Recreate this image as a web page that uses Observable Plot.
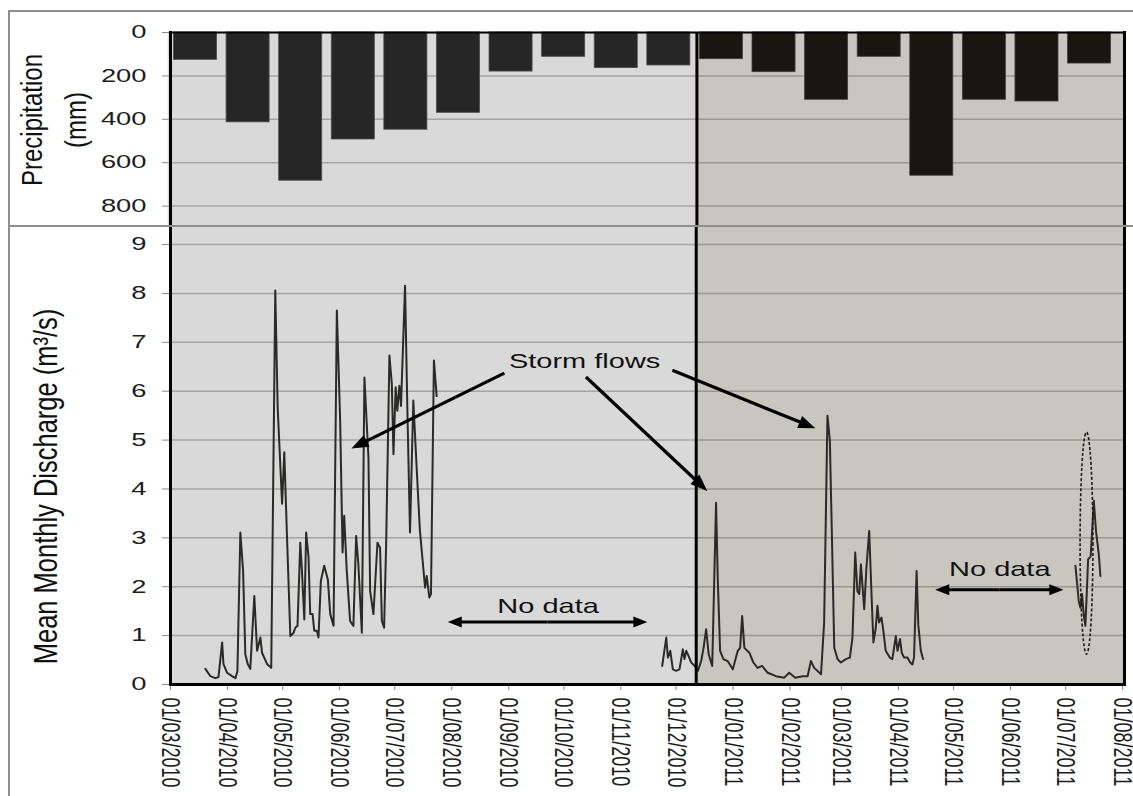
<!DOCTYPE html>
<html>
<head>
<meta charset="utf-8">
<script src="https://cdn.jsdelivr.net/npm/d3@7"></script>
<script src="https://cdn.jsdelivr.net/npm/@observablehq/plot@0.6"></script>
<style>
  html, body { margin: 0; padding: 0; background: #fff; }
  #chart { position: relative; width: 1133px; height: 796px; overflow: hidden; }
  #chart svg { position: absolute; left: 0; }
  .hline { position: absolute; left: 8px; right: 0; height: 2px; background: #8e8e8e; }
  .vline { position: absolute; left: 8px; top: 10px; bottom: 0; width: 2px; background: #8e8e8e; }
</style>
</head>
<body>
<div id="chart">
  <div class="hline" style="top:10px"></div>
  <div class="vline"></div>
</div>
<script>
// ---- Monthly precipitation (mm), March 2010 – August 2011 ----
const precipMonths = ["2010-03","2010-04","2010-05","2010-06","2010-07","2010-08","2010-09","2010-10","2010-11","2010-12",
                      "2011-01","2011-02","2011-03","2011-04","2011-05","2011-06","2011-07","2011-08"];
const precipMm = [126, 414, 683, 493, 448, 370, 180, 112, 164, 152, 123, 183, 310, 112, 660, 310, 318, 143];
const precipTicks = [0, 200, 400, 600, 800];

// ---- Discharge (m3/s); days are counted from 1 March 2010 ----
const dayMar2010Jul2010 = [19.0,21.7,24.4,26.1,28.1,28.8,30.8,33.5,35.3,36.4,38.0,39.5,40.7,42.0,43.4,45.6,47.1,48.9,49.8,52.5,
  54.8,57.0,58.3,60.7,61.9,63.4,65.2,67.0,67.9,69.1,70.6,71.5,72.8,73.8,75.1,76.0,77.3,78.2,79.7,80.5,
  81.8,83.6,85.6,86.9,88.7,90.5,92.3,93.6,94.5,95.9,97.7,99.5,101.0,102.2,104.1,105.5,107.7,108.6,110.4,112.6,
  114.0,115.0,116.2,117.3,119.1,120.4,121.3,122.5,123.4,124.5,125.4,127.6,128.8,130.3,132.1,134.0,135.7,138.5,139.4,140.8,
  141.7,143.3,144.8];
const flowMar2010Jul2010 = [0.32,0.17,0.13,0.15,0.86,0.42,0.24,0.17,0.13,0.27,3.11,2.32,0.62,0.42,0.32,1.81,0.69,0.96,0.65,0.42,
  0.34,8.06,5.67,3.70,4.75,3.00,0.99,1.06,1.16,1.20,2.90,2.32,1.33,3.11,2.60,1.44,1.44,1.10,1.10,0.96,
  2.12,2.43,2.15,1.44,1.20,7.65,5.40,2.70,3.45,2.32,1.30,1.20,3.04,2.46,1.06,6.28,4.64,1.91,1.44,2.90,
  2.80,1.30,1.16,2.84,6.73,6.15,4.71,6.08,5.60,6.11,5.70,8.16,5.74,3.11,5.81,4.37,3.14,1.98,2.22,1.78,
  1.85,6.63,5.90];

const dayNov2010Apr2011 = [267.5,269.7,270.6,271.9,273.3,275.1,276.9,278.7,279.6,280.6,281.4,283.3,285.1,286.9,288.7,290.0,291.4,292.8,294.7,296.8,
  297.7,299.0,300.8,303.1,305.9,308.6,309.9,311.0,312.2,314.9,317.1,319.4,321.8,324.9,329.4,333.9,336.6,339.9,343.9,346.6,
  348.4,350.2,353.9,355.6,357.4,358.7,359.8,361.1,362.9,364.7,367.4,369.6,371.0,372.5,373.7,374.7,375.6,377.4,378.6,380.1,
  381.3,382.4,383.7,384.6,385.5,386.8,387.7,389.1,391.3,392.7,394.6,395.5,396.9,397.8,399.1,400.9,402.4,403.6,404.5,405.9,
  406.8,408.2,409.4];
const flowNov2010Apr2011 = [0.38,0.96,0.55,0.69,0.31,0.28,0.31,0.72,0.52,0.69,0.62,0.45,0.38,0.28,0.48,0.75,1.13,0.62,0.38,3.72,
  2.19,0.69,0.52,0.48,0.31,0.69,0.75,1.40,0.75,0.65,0.45,0.34,0.38,0.24,0.17,0.14,0.24,0.14,0.17,0.17,
  0.48,0.34,0.21,1.27,5.50,4.99,3.08,0.75,0.52,0.45,0.52,0.55,0.96,2.70,1.91,1.85,2.46,1.54,2.39,3.14,
  1.91,0.86,1.16,1.61,1.27,1.37,1.13,0.69,0.55,0.52,0.99,0.69,0.93,0.65,0.55,0.55,0.45,0.41,0.55,2.32,
  1.23,0.69,0.52];

const dayJul2011 = [492.3,494.1,495.0,495.9,496.8,497.7,498.6,499.2,500.6,502.3,503.5,505.0,505.9];
const flowJul2011 = [2.43,1.71,1.57,1.85,1.44,1.20,1.98,2.56,2.62,3.76,3.14,2.67,2.22];

const flowTicks = [0, 1, 2, 3, 4, 5, 6, 7, 8, 9];
const dateTicks = ["2010-03-01","2010-04-01","2010-05-01","2010-06-01","2010-07-01","2010-08-01","2010-09-01","2010-10-01",
  "2010-11-01","2010-12-01","2011-01-01","2011-02-01","2011-03-01","2011-04-01","2011-05-01","2011-06-01","2011-07-01","2011-08-01"];

// ---- Annotations (days from 1 March 2010, discharge in m3/s) ----
const splitDate = "2010-12-12";
const stormLabel = {day: 225.3, q: 6.48, text: "Storm flows"};
const stormArrows = [
  {fromDay: 181.9, fromQ: 6.36, toDay: 98.7, toQ: 4.82},
  {fromDay: 226.3, fromQ: 6.28, toDay: 292.3, toQ: 3.95},
  {fromDay: 273.3, fromQ: 6.42, toDay: 351.1, toQ: 5.23}
];
const gaps = [
  {fromDay: 151.1, toDay: 259.7, q: 1.27, labelQ: 1.47, text: "No data"},
  {fromDay: 416.3, toDay: 486.0, q: 1.93, labelQ: 2.22, text: "No data"}
];
const ring = {day: 498.6, q: 2.88, halfDays: 3.5, halfQ: 2.27};

// ---- helpers ----
const NS = "http://www.w3.org/2000/svg";
const START = new Date("2010-03-01");
const onDay = (d) => new Date(START.getTime() + d * 864e5);
const FONT = '"Liberation Sans", Arial, Helvetica, sans-serif';
const W = 1133, LEFT = 170, RIGHT = 1124;
const shadeEarly = "#d9d9d9", shadeLate = "#c8c7bf";
const barEarly = "#262626", barLate = "#17160f";
const grid = {stroke: "#000", strokeOpacity: 0.24, strokeWidth: 1.5};
const SPLIT = new Date(splitDate);

// band layout of the monthly bars
const PAD_INNER = 0.182, PAD_OUTER = 0.161, ALIGN = 0.207;
const step = (RIGHT - LEFT) / (precipMonths.length - PAD_INNER + 2 * PAD_OUTER);
const bandWidth = step * (1 - PAD_INNER);

const months = precipMonths.map((m, i) => ({month: m, start: new Date(m + "-01"), mm: precipMm[i]}));
const monthsEarly = months.filter((d) => d.start < SPLIT);
const monthsLate = months.filter((d) => d.start >= SPLIT);

const flowRows = [
  ...dayMar2010Jul2010.map((d, i) => ({date: onDay(d), q: flowMar2010Jul2010[i], seg: "a"})),
  ...dayNov2010Apr2011.map((d, i) => ({date: onDay(d), q: flowNov2010Apr2011[i], seg: "b"})),
  ...dayJul2011.map((d, i) => ({date: onDay(d), q: flowJul2011[i], seg: "c"}))
];

// the typeface is set wide horizontally; stretch text along the x direction
function widenText(svg) {
  const byLabel = {"y-axis tick label": 1.52, "x-axis tick label": 1.45};
  const byDesc = {"precip title": 1.25, "flow title": 1.3, "annotation": 1.38};
  svg.querySelectorAll("g").forEach((g) => {
    const k = byLabel[g.getAttribute("aria-label")] ?? byDesc[g.getAttribute("aria-description")];
    if (!k) return;
    g.querySelectorAll(":scope > text").forEach((t) => {
      const tr = t.getAttribute("transform") || "";
      t.setAttribute("transform", tr + (/rotate/.test(tr) ? ` scale(1,${k})` : ` scale(${k},1)`));
    });
  });
}

// straight arrows with solid triangular heads, positioned through the plot scales
function arrowsMark(rows, {head = 16, halfWidth = 6, width = 3} = {}) {
  return (index, {x, y}) => {
    const g = document.createElementNS(NS, "g");
    g.setAttribute("aria-label", "arrow");
    for (const r of rows) {
      const x1 = x(onDay(r.fromDay)), y1 = y(r.fromQ), x2 = x(onDay(r.toDay)), y2 = y(r.toQ);
      const a = Math.atan2(y2 - y1, x2 - x1), c = Math.cos(a), s = Math.sin(a);
      const bx = x2 - head * c, by = y2 - head * s;
      const line = document.createElementNS(NS, "line");
      line.setAttribute("x1", x1); line.setAttribute("y1", y1);
      line.setAttribute("x2", bx + c); line.setAttribute("y2", by + s);
      line.setAttribute("stroke", "#000"); line.setAttribute("stroke-width", width);
      g.appendChild(line);
      const tri = document.createElementNS(NS, "path");
      tri.setAttribute("d", `M${x2},${y2}L${bx - halfWidth * s},${by + halfWidth * c}L${bx + halfWidth * s},${by - halfWidth * c}Z`);
      tri.setAttribute("fill", "#000");
      g.appendChild(tri);
    }
    return g;
  };
}

// ---- precipitation panel ----
const precipMax = 894;
const topPlot = Plot.plot({
  width: W, height: 226,
  marginLeft: LEFT, marginRight: W - RIGHT, marginTop: 32, marginBottom: 0,
  style: {fontFamily: FONT, background: "transparent", overflow: "visible", color: "#000"},
  x: {type: "band", domain: precipMonths, paddingInner: PAD_INNER, paddingOuter: PAD_OUTER, align: ALIGN, round: false, axis: null},
  y: {domain: [0, precipMax], reverse: true, axis: null},
  marks: [
    Plot.frame({fill: shadeLate, stroke: null}),
    Plot.barY(monthsEarly, {x: "month", y1: 0, y2: precipMax, fill: shadeEarly,
      insetLeft: -step * PAD_INNER / 2 - 1, insetRight: -step * PAD_INNER / 2 - 1}),
    Plot.gridY(precipTicks.slice(1), grid),
    Plot.barY(monthsEarly, {x: "month", y: "mm", fill: barEarly, stroke: "#4a4a4a", strokeWidth: 0.8}),
    Plot.barY(monthsLate, {x: "month", y: "mm", fill: barLate, stroke: "#403f38", strokeWidth: 0.8}),
    Plot.axisY(precipTicks, {tickSize: 8, tickPadding: 16, fontSize: 18, stroke: "#8a8a8a", fill: "#1c1c1c", label: null}),
    Plot.ruleX(["2011-01"], {dx: -(bandWidth / 2 + 3), strokeWidth: 3, stroke: "#000"}),
    Plot.frame({anchor: "top", strokeWidth: 2, stroke: "#000"}),
    Plot.frame({anchor: "left", strokeWidth: 3, stroke: "#000"}),
    Plot.frame({anchor: "right", strokeWidth: 3, stroke: "#000"}),
    Plot.text(["Precipitation\n(mm)"], {frameAnchor: "left", textAnchor: "middle", rotate: -90, dx: -121, dy: -9.5,
      fontSize: 24, lineHeight: 1.47, fill: "#111", ariaDescription: "precip title"})
  ]
});
topPlot.style.top = "0px";

// ---- discharge panel ----
const flowMax = 9.37;
const ellipseMark = (index, {x, y}) => {
  const cx = x(onDay(ring.day)), cy = y(ring.q);
  const rx = x(onDay(ring.day + ring.halfDays)) - cx;
  const ry = cy - y(ring.q + ring.halfQ);
  const el = document.createElementNS(NS, "ellipse");
  el.setAttribute("cx", cx); el.setAttribute("cy", cy);
  el.setAttribute("rx", rx); el.setAttribute("ry", ry);
  el.setAttribute("fill", "none"); el.setAttribute("stroke", "#1a1a1a");
  el.setAttribute("stroke-width", 1.6); el.setAttribute("stroke-dasharray", "3,2");
  return el;
};

// each "No data" span is drawn as two arrows running out from its middle
const gapArrows = gaps.flatMap((d) => {
  const mid = (d.fromDay + d.toDay) / 2;
  return [
    {fromDay: mid, fromQ: d.q, toDay: d.fromDay, toQ: d.q},
    {fromDay: mid, fromQ: d.q, toDay: d.toDay, toQ: d.q}
  ];
});

const bottomPlot = Plot.plot({
  width: W, height: 570,
  marginLeft: LEFT, marginRight: W - RIGHT, marginTop: 0, marginBottom: 112,
  style: {fontFamily: FONT, background: "transparent", overflow: "visible", color: "#000"},
  x: {type: "utc", domain: [START, new Date("2011-08-02")], axis: null},
  y: {domain: [0, flowMax], axis: null},
  marks: [
    Plot.frame({fill: shadeLate, stroke: null}),
    Plot.rect([{x1: START, x2: SPLIT}], {x1: "x1", x2: "x2", fill: shadeEarly}),
    Plot.gridY(flowTicks.slice(1), grid),
    Plot.line(flowRows, {x: "date", y: "q", z: "seg", stroke: "#2a2a28", strokeWidth: 2, strokeLinejoin: "round"}),
    ellipseMark,
    arrowsMark(stormArrows, {head: 17, halfWidth: 6.5, width: 3.2}),
    arrowsMark(gapArrows, {head: 14, halfWidth: 5.5, width: 3}),
    Plot.text([stormLabel], {x: (d) => onDay(d.day), y: "q", text: "text", fontSize: 21, lineAnchor: "bottom",
      fill: "#111", ariaDescription: "annotation"}),
    Plot.text(gaps, {x: (d) => onDay((d.fromDay + d.toDay) / 2), y: "labelQ", text: "text", fontSize: 21, lineAnchor: "bottom",
      fill: "#111", ariaDescription: "annotation"}),
    Plot.axisX(dateTicks.map((d) => new Date(d)), {tickFormat: d3.utcFormat("%d/%m/%Y"), tickRotate: 90,
      tickSize: 6, tickPadding: 7, fontSize: 18, stroke: "#8a8a8a", fill: "#1c1c1c", label: null}),
    Plot.axisY(flowTicks, {tickSize: 8, tickPadding: 16, fontSize: 18, stroke: "#8a8a8a", fill: "#1c1c1c", label: null}),
    Plot.ruleX([SPLIT], {strokeWidth: 3, stroke: "#000"}),
    Plot.frame({anchor: "left", strokeWidth: 3, stroke: "#000"}),
    Plot.frame({anchor: "right", strokeWidth: 3, stroke: "#000"}),
    Plot.frame({anchor: "bottom", strokeWidth: 3, stroke: "#000"}),
    Plot.text(["Mean Monthly Discharge (m³/s)"], {frameAnchor: "left", textAnchor: "middle", rotate: -90, dx: -124.6, dy: 31,
      fontSize: 25.5, fill: "#111", ariaDescription: "flow title"})
  ]
});
bottomPlot.style.top = "226px";

widenText(topPlot);
widenText(bottomPlot);

const chart = document.getElementById("chart");
chart.appendChild(topPlot);
chart.appendChild(bottomPlot);
const sep = document.createElement("div");
sep.className = "hline";
sep.style.top = "225px";
chart.appendChild(sep);
</script>
</body>
</html>
